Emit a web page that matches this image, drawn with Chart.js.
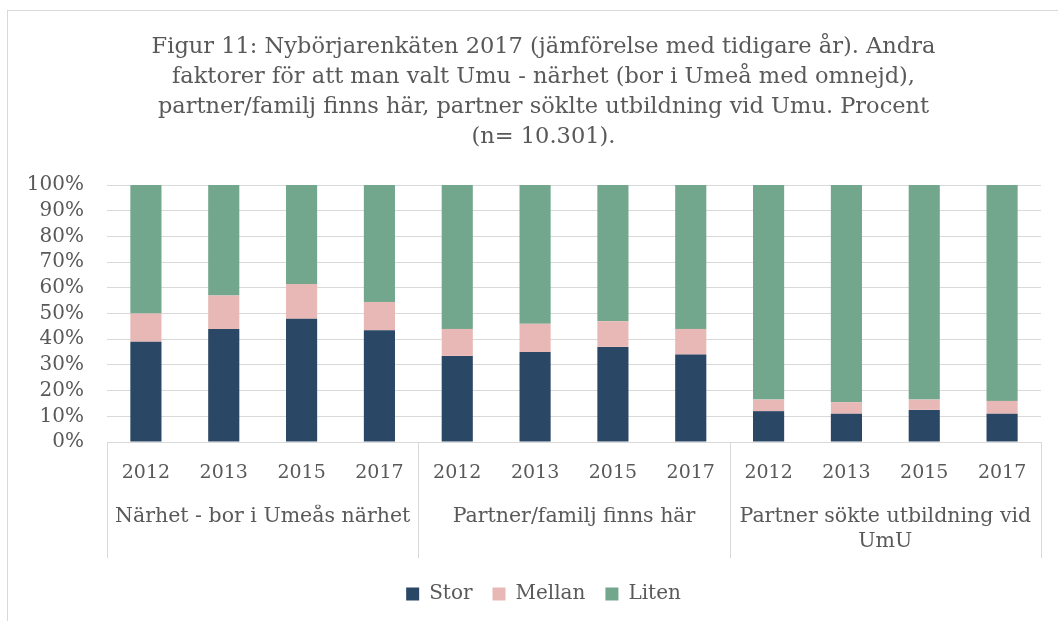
<!DOCTYPE html>
<html>
<head>
<meta charset="utf-8">
<script src="https://cdn.jsdelivr.net/npm/chart.js@4/dist/chart.umd.min.js"></script>
<style>
  html, body { margin: 0; padding: 0; background: #fff; overflow: hidden; }
  #wrap { position: relative; width: 1058px; height: 621px; }
  #frame { position: absolute; left: 7px; top: 10px; width: 1100px; height: 700px; border: 1px solid #d9d9d9; }
  canvas { position: absolute; left: 0; top: 0; }
</style>
</head>
<body>
<div id="wrap">
  <div id="frame"></div>
  <canvas id="chart" width="1058" height="621"></canvas>
</div>
<script>
// data (percent)
const years = ['2012', '2013', '2015', '2017', '2012', '2013', '2015', '2017', '2012', '2013', '2015', '2017'];
const groups = ['Närhet - bor i Umeås närhet', 'Partner/familj finns här', ['Partner sökte utbildning vid', 'UmU']];
const stor = [39, 44, 48, 43.5, 33.5, 35, 37, 34, 12, 11, 12.5, 11];
const mellan = [11, 13, 13.5, 11, 10.5, 11, 10, 10, 4.5, 4.5, 4, 5];
const liten = [50, 43, 38.5, 45.5, 56, 54, 53, 56, 83.5, 84.5, 83.5, 84];

const TEXT = '#595959';
const GRID = '#d9d9d9';
const SERIF = "'DejaVu Serif', serif";

// vertical separators under the plot between the category groups
const groupLines = {
  id: 'groupLines',
  afterDraw(chart) {
    const x = chart.scales.x;
    const ctx = chart.ctx;
    const step = x.width / years.length;
    ctx.save();
    ctx.strokeStyle = GRID;
    ctx.lineWidth = 1;
    for (let i = 0; i <= years.length; i += 4) {
      const px = Math.round(x.left + i * step) + 0.5;
      ctx.beginPath();
      ctx.moveTo(px, x.top);
      ctx.lineTo(px, x.top + 116);
      ctx.stroke();
    }
    ctx.restore();
  }
};

// let the % labels run into the left padding instead of being clipped
const widenYLabels = {
  id: 'widenYLabels',
  afterLayout(chart) { chart.scales.y.left = 0; }
};

new Chart(document.getElementById('chart'), {
  type: 'bar',
  data: {
    labels: years,
    datasets: [
      { label: 'Stor', data: stor, backgroundColor: '#2a4765' },
      { label: 'Mellan', data: mellan, backgroundColor: '#e8b8b6' },
      { label: 'Liten', data: liten, backgroundColor: '#72a78e' }
    ]
  },
  options: {
    responsive: false,
    animation: false,
    barPercentage: 0.4,
    categoryPercentage: 1,
    layout: { padding: { left: 46, right: 17, top: 0, bottom: 7 } },
    plugins: {
      title: {
        display: true,
        text: [
          'Figur 11: Nybörjarenkäten 2017 (jämförelse med tidigare år). Andra',
          'faktorer för att man valt Umu - närhet (bor i Umeå med omnejd),',
          'partner/familj finns här, partner söklte utbildning vid Umu. Procent',
          '(n= 10.301).'
        ],
        color: TEXT,
        font: { family: SERIF, size: 22.5, weight: 'normal', lineHeight: '30px' },
        padding: { top: 32, bottom: 33 }
      },
      legend: {
        position: 'bottom',
        labels: {
          color: TEXT,
          font: { family: SERIF, size: 20 },
          boxWidth: 13,
          boxHeight: 13,
          padding: 20
        }
      },
      tooltip: { enabled: false }
    },
    scales: {
      x: {
        stacked: true,
        grid: { display: false, drawTicks: false },
        border: { display: true, color: GRID },
        ticks: { color: TEXT, font: { family: SERIF, size: 19 }, padding: 20, maxRotation: 0, autoSkip: false }
      },
      x2: {
        type: 'category',
        position: 'bottom',
        labels: groups,
        offset: true,
        afterFit: s => { s.height += 10; },
        grid: { display: false, drawTicks: false },
        border: { display: false },
        ticks: { color: TEXT, font: { family: SERIF, size: 20.5 }, padding: 0, maxRotation: 0, autoSkip: false }
      },
      y: {
        stacked: true,
        min: 0,
        max: 100,
        afterFit: s => { s.width = 61; },
        grid: { color: GRID, drawTicks: false },
        border: { display: false },
        ticks: {
          stepSize: 10,
          autoSkip: false,
          padding: 23,
          color: TEXT,
          font: { family: SERIF, size: 20 },
          callback: v => v + '%'
        }
      }
    }
  },
  plugins: [groupLines, widenYLabels]
});
</script>
</body>
</html>
